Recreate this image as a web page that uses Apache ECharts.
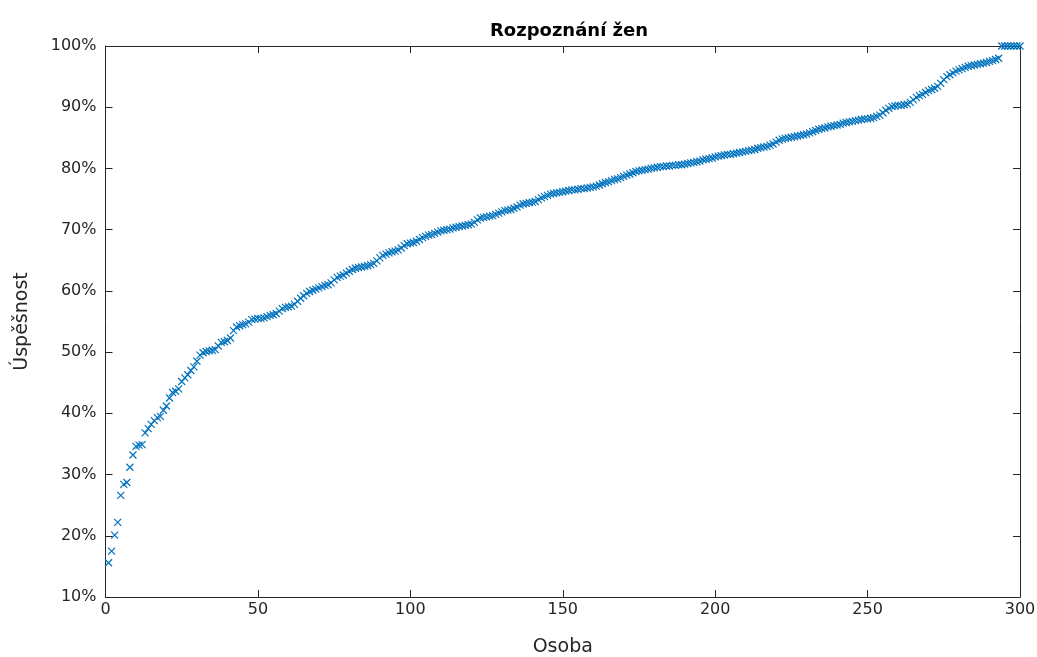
<!DOCTYPE html>
<html>
<head>
<meta charset="utf-8">
<script src="https://cdn.jsdelivr.net/npm/echarts@6/dist/echarts.min.js"></script>
<style>
html,body{margin:0;padding:0;background:#fff;}
#c{width:1037px;height:657px;}
</style>
</head>
<body>
<div id="c"></div>
<script>
// Success rate (%) per person, sorted ascending (person 1..300)
const successRate = [
15.6,17.5,20.1,22.2,26.6,28.4,28.7,31.2,33.2,34.6,
34.8,34.9,36.8,37.5,38.2,38.8,39.3,39.5,40.5,41.2,
42.5,43.4,43.6,44.0,45.2,45.8,46.3,47.0,47.6,48.5,
49.5,49.9,50.1,50.2,50.3,50.4,51.0,51.6,51.7,51.9,
52.3,53.5,54.1,54.3,54.5,54.6,54.9,55.3,55.4,55.5,
55.5,55.6,55.8,56.0,56.1,56.3,56.7,57.1,57.3,57.4,
57.5,57.8,58.3,58.8,59.2,59.6,59.9,60.1,60.3,60.5,
60.7,60.9,61.0,61.3,61.8,62.2,62.4,62.6,62.9,63.2,
63.5,63.7,63.8,63.9,64.0,64.1,64.3,64.5,64.9,65.4,
65.8,66.0,66.2,66.4,66.5,66.7,67.0,67.4,67.7,67.8,
67.9,68.1,68.4,68.7,68.9,69.1,69.2,69.4,69.6,69.8,
69.9,70.0,70.1,70.3,70.4,70.5,70.6,70.7,70.8,70.9,
71.2,71.6,71.9,72.0,72.1,72.2,72.3,72.5,72.7,72.9,
73.1,73.2,73.3,73.5,73.7,74.0,74.2,74.3,74.4,74.5,
74.6,74.9,75.2,75.4,75.6,75.8,75.9,76.0,76.1,76.2,
76.3,76.4,76.5,76.5,76.6,76.7,76.7,76.8,76.9,77.0,
77.1,77.3,77.5,77.7,77.8,78.0,78.2,78.3,78.5,78.7,
78.9,79.1,79.3,79.5,79.6,79.7,79.8,79.9,80.0,80.1,
80.2,80.3,80.3,80.4,80.4,80.5,80.5,80.6,80.6,80.7,
80.8,80.9,81.0,81.1,81.2,81.4,81.5,81.6,81.7,81.9,
82.0,82.1,82.2,82.3,82.3,82.4,82.5,82.6,82.7,82.8,
82.9,83.0,83.1,83.3,83.4,83.5,83.6,83.8,84.0,84.3,
84.6,84.8,84.9,85.0,85.1,85.2,85.3,85.4,85.5,85.6,
85.8,86.0,86.2,86.4,86.5,86.6,86.8,86.9,87.0,87.1,
87.2,87.4,87.5,87.6,87.7,87.8,87.9,88.0,88.1,88.1,
88.2,88.3,88.5,88.7,89.1,89.5,89.8,90.1,90.2,90.3,
90.3,90.4,90.5,90.8,91.2,91.6,91.9,92.1,92.4,92.7,
92.9,93.1,93.4,93.9,94.5,95.0,95.3,95.6,95.9,96.1,
96.3,96.5,96.7,96.8,96.9,97.0,97.1,97.2,97.3,97.5,
97.6,97.8,98.0,100,100,100,100,100,100,100
];
const xTicks = [0,50,100,150,200,250,300];
const yTicks = [10,20,30,40,50,60,70,80,90,100];
const titleText = 'Rozpoznání žen';
const xName = 'Osoba';
const yName = 'Úspěšnost';

const points = successRate.map((v, i) => [i + 1, v]);
const axisCol = '#262626';
const font = 'DejaVu Sans, Liberation Sans, Arial, sans-serif';

const chart = echarts.init(document.getElementById('c'), null, {renderer: 'canvas'});
function baseX(pos) {
  return {
    type: 'value', position: pos, min: xTicks[0], max: xTicks[xTicks.length - 1], interval: 50,
    axisLine: {show: true, onZero: false, lineStyle: {color: axisCol, width: 1}},
    axisTick: {show: true, inside: true, length: 7, lineStyle: {color: axisCol}},
    splitLine: {show: false}
  };
}
function baseY(pos) {
  return {
    type: 'value', position: pos, min: yTicks[0], max: yTicks[yTicks.length - 1], interval: 10,
    axisLine: {show: true, onZero: false, lineStyle: {color: axisCol, width: 1}},
    axisTick: {show: true, inside: true, length: 7, lineStyle: {color: axisCol}},
    splitLine: {show: false}
  };
}
chart.setOption({
  animation: false,
  backgroundColor: '#ffffff',
  title: {
    text: titleText, left: 564, top: 17, textAlign: 'center',
    textStyle: {fontFamily: font, fontSize: 18, fontWeight: 'bold', color: '#000'}
  },
  grid: {left: 105.5, right: 17, top: 46, bottom: 60, containLabel: false, outerBoundsMode: 'none'},
  xAxis: [
    Object.assign(baseX('bottom'), {
      name: xName, nameLocation: 'middle', nameGap: 41,
      nameTextStyle: {fontFamily: font, fontSize: 19, color: axisCol},
      axisLabel: {show: true, margin: 5, fontFamily: font, fontSize: 16, color: axisCol}
    }),
    Object.assign(baseX('top'), {axisLabel: {show: false}})
  ],
  yAxis: [
    Object.assign(baseY('left'), {
      name: yName, nameLocation: 'middle', nameGap: 74,
      nameTextStyle: {fontFamily: font, fontSize: 19, color: axisCol},
      axisLabel: {show: true, margin: 9, fontFamily: font, fontSize: 16, color: axisCol,
        formatter: '{value}%'}
    }),
    Object.assign(baseY('right'), {axisLabel: {show: false}})
  ],
  series: [{
    type: 'scatter',
    xAxisIndex: 0, yAxisIndex: 0,
    data: points,
    symbol: 'path://M0,0L10,10M10,0L0,10',
    symbolSize: 7,
    itemStyle: {color: 'rgba(0,0,0,0)', borderColor: '#0072BD', borderWidth: 1.2, opacity: 1}
  }]
});
</script>
</body>
</html>
